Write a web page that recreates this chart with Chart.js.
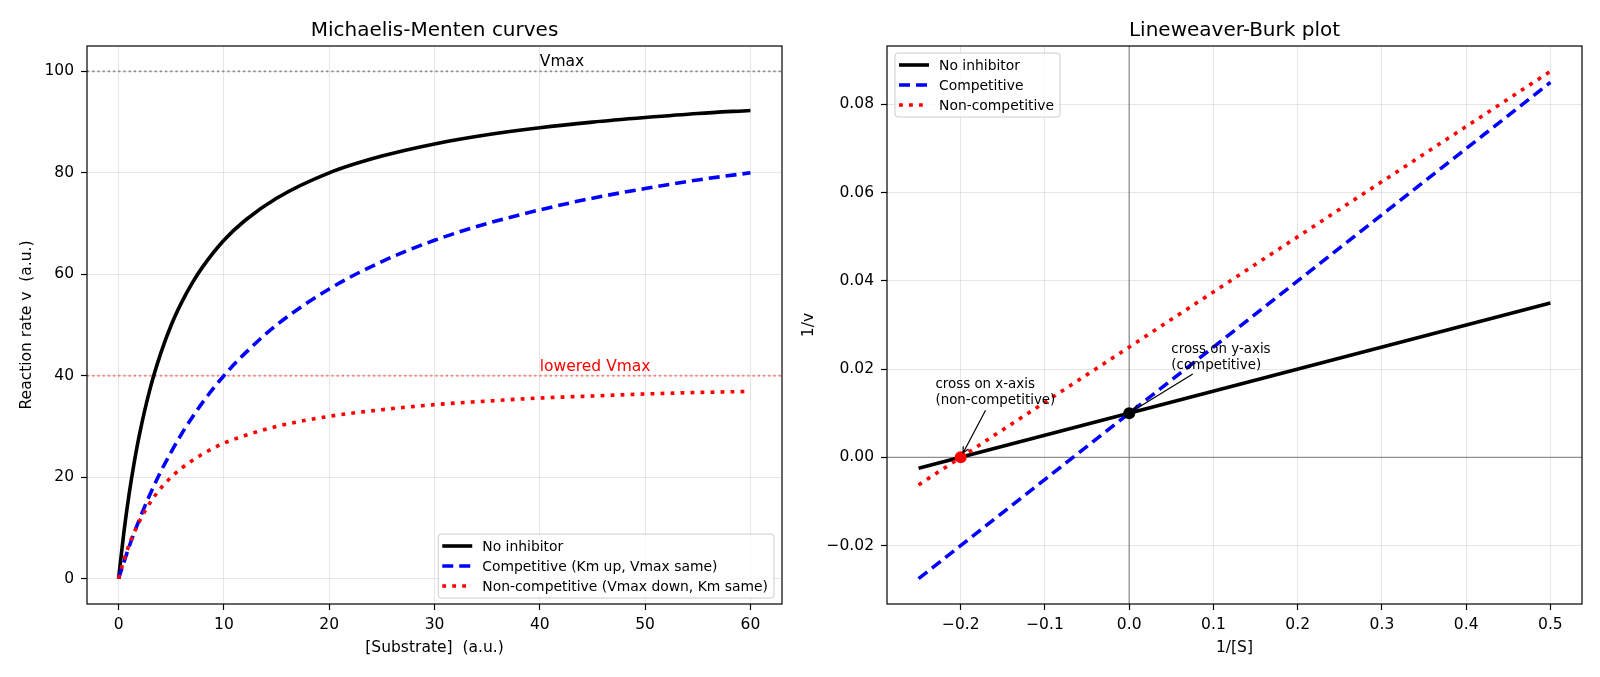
<!DOCTYPE html>
<html>
<head>
<meta charset="utf-8">
<script src="https://cdn.jsdelivr.net/npm/chart.js@4.4.0/dist/chart.umd.min.js"></script>
<style>
  body { margin: 0; background: #fff; }
  #wrap { position: relative; width: 1600px; height: 677px; }
  canvas { position: absolute; top: 0; }
</style>
</head>
<body>
<div id="wrap">
  <canvas id="mmChart" width="800" height="677" style="left:0"></canvas>
  <canvas id="lbChart" width="800" height="677" style="left:800px"></canvas>
</div>
<script>
// --- Michaelis-Menten panel ---
const substrate   = [0, 0.5, 1, 1.5, 2, 3, 4, 5, 6, 7, 8, 10, 12, 15, 20, 25, 30, 35, 40, 45, 50, 55, 60];
const rateNone    = [0, 9.1, 16.7, 23.1, 28.6, 37.5, 44.4, 50.0, 54.5, 58.3, 61.5, 66.7, 70.6, 75.0, 80.0, 83.3, 85.7, 87.5, 88.9, 90.0, 90.9, 91.7, 92.3];
const rateComp    = [0, 3.2, 6.3, 9.1, 11.8, 16.7, 21.1, 25.0, 28.6, 31.8, 34.8, 40.0, 44.4, 50.0, 57.1, 62.5, 66.7, 70.0, 72.7, 75.0, 76.9, 78.6, 80.0];
const rateNonComp = [0, 3.6, 6.7, 9.2, 11.4, 15.0, 17.8, 20.0, 21.8, 23.3, 24.6, 26.7, 28.2, 30.0, 32.0, 33.3, 34.3, 35.0, 35.6, 36.0, 36.4, 36.7, 36.9];
const mmXTicks = [0, 10, 20, 30, 40, 50, 60];
const mmXTickLabels = ['0', '10', '20', '30', '40', '50', '60'];
const mmYTicks = [0, 20, 40, 60, 80, 100];
const mmYTickLabels = ['0', '20', '40', '60', '80', '100'];

// --- Lineweaver-Burk panel ---
const invS        = [-0.25, 0.5];
const invVNone    = [-0.0025, 0.035];
const invVComp    = [-0.0275, 0.085];
const invVNonComp = [-0.00625, 0.0875];
const crossX = [-0.2, 0];
const crossY = [0, 0.01];
const lbXTicks = [-0.2, -0.1, 0, 0.1, 0.2, 0.3, 0.4, 0.5];
const lbXTickLabels = ['\u22120.2', '\u22120.1', '0.0', '0.1', '0.2', '0.3', '0.4', '0.5'];
const lbYTicks = [-0.02, 0, 0.02, 0.04, 0.06, 0.08];
const lbYTickLabels = ['\u22120.02', '0.00', '0.02', '0.04', '0.06', '0.08'];

const FONT = '"DejaVu Sans", sans-serif';

function toPoints(xs, ys) {
    return xs.map((x, i) => ({ x: x, y: ys[i] }));
}

// matplotlib-like extras: ref lines, frame, text, arrows, legend inside the axes
const mplExtras = {
    id: 'mplExtras',
    beforeDatasetsDraw(chart, args, opts) {
        const { ctx, chartArea: a, scales: { x, y } } = chart;
        ctx.save();
        ctx.beginPath();
        ctx.rect(a.left, a.top, a.right - a.left, a.bottom - a.top);
        ctx.clip();
        (opts.hLines || []).forEach(l => {
            const py = y.getPixelForValue(l.value);
            ctx.strokeStyle = l.color;
            ctx.lineWidth = l.width;
            ctx.setLineDash(l.dash || []);
            ctx.beginPath();
            ctx.moveTo(a.left, py);
            ctx.lineTo(a.right, py);
            ctx.stroke();
        });
        (opts.vLines || []).forEach(l => {
            const px = x.getPixelForValue(l.value);
            ctx.strokeStyle = l.color;
            ctx.lineWidth = l.width;
            ctx.setLineDash(l.dash || []);
            ctx.beginPath();
            ctx.moveTo(px, a.top);
            ctx.lineTo(px, a.bottom);
            ctx.stroke();
        });
        ctx.restore();
    },
    afterDatasetsDraw(chart, args, opts) {
        const { ctx, chartArea: a, scales: { x, y } } = chart;
        ctx.save();
        // frame
        ctx.strokeStyle = '#000';
        ctx.lineWidth = 1.2;
        ctx.setLineDash([]);
        ctx.strokeRect(a.left, a.top, a.right - a.left, a.bottom - a.top);

        // plain labels
        (opts.texts || []).forEach(t => {
            ctx.font = '15.5px ' + FONT;
            ctx.fillStyle = t.color;
            ctx.textAlign = 'left';
            ctx.textBaseline = 'alphabetic';
            ctx.fillText(t.text, x.getPixelForValue(t.x), y.getPixelForValue(t.y));
        });

        // annotations with arrows
        (opts.notes || []).forEach(n => {
            const fs = 13.4, lh = fs * 1.2;
            ctx.font = fs + 'px ' + FONT;
            ctx.fillStyle = '#000';
            ctx.textAlign = 'left';
            ctx.textBaseline = 'alphabetic';
            const tx = x.getPixelForValue(n.x), ty = y.getPixelForValue(n.y);
            const lines = n.lines;
            lines.forEach((s, i) => ctx.fillText(s, tx, ty - (lines.length - 1 - i) * lh));
            const w = Math.max(...lines.map(s => ctx.measureText(s).width));
            const top = ty - (lines.length - 1) * lh - fs * 0.93;
            const bottom = ty + fs * 0.24;
            const cx = tx + w / 2, cy = (top + bottom) / 2;
            const ex = x.getPixelForValue(n.px), ey = y.getPixelForValue(n.py);
            const dx = ex - cx, dy = ey - cy;
            const len = Math.hypot(dx, dy);
            const ux = dx / len, uy = dy / len;
            const tX = dx !== 0 ? Math.abs((dx > 0 ? tx + w - cx : tx - cx) / dx) : Infinity;
            const tY = dy !== 0 ? Math.abs((dy > 0 ? bottom - cy : top - cy) / dy) : Infinity;
            const t = Math.min(tX, tY);
            const sx = cx + dx * t + ux * 3, sy = cy + dy * t + uy * 3;
            const fx = ex - ux * 5, fy = ey - uy * 5;
            ctx.strokeStyle = '#000';
            ctx.lineWidth = 1.2;
            ctx.beginPath();
            ctx.moveTo(sx, sy);
            ctx.lineTo(fx, fy);
            const hl = 6, hw = 3;
            ctx.moveTo(fx - ux * hl - uy * hw, fy - uy * hl + ux * hw);
            ctx.lineTo(fx, fy);
            ctx.lineTo(fx - ux * hl + uy * hw, fy - uy * hl - ux * hw);
            ctx.stroke();
        });

        // legend
        if (opts.legendCorner) {
            const items = chart.data.datasets.filter(d => d.label);
            const fs = 13.9, rowH = 20, padL = 4, handle = 30, gap = 10, padR = 6, padV = 2;
            ctx.font = fs + 'px ' + FONT;
            const textW = Math.max(...items.map(d => ctx.measureText(d.label).width));
            const w = padL + handle + gap + textW + padR;
            const h = padV * 2 + rowH * items.length;
            const lower = opts.legendCorner === 'lower right';
            const left = lower ? a.right - 8 - w : a.left + 8;
            const top = lower ? a.bottom - 6 - h : a.top + 7;
            ctx.beginPath();
            if (ctx.roundRect) ctx.roundRect(left, top, w, h, 3);
            else ctx.rect(left, top, w, h);
            ctx.fillStyle = 'rgba(255,255,255,0.8)';
            ctx.fill();
            ctx.strokeStyle = '#cccccc';
            ctx.lineWidth = 1;
            ctx.stroke();
            items.forEach((d, i) => {
                const cy = top + padV + rowH * (i + 0.5);
                ctx.strokeStyle = d.borderColor;
                ctx.lineWidth = d.borderWidth;
                ctx.setLineDash(d.borderDash || []);
                ctx.beginPath();
                ctx.moveTo(left + padL, cy);
                ctx.lineTo(left + padL + handle, cy);
                ctx.stroke();
                ctx.setLineDash([]);
                ctx.fillStyle = '#000';
                ctx.textAlign = 'left';
                ctx.textBaseline = 'middle';
                ctx.fillText(d.label, left + padL + handle + gap, cy + 1);
            });
        }
        ctx.restore();
    }
};

function makeAxis(isX, min, max, ticks, labels, title, titlePad) {
    return {
        type: 'linear',
        min: min,
        max: max,
        afterBuildTicks: s => { s.ticks = ticks.map(v => ({ value: v })); },
        afterFit: s => { if (isX) s.height = 73; else s.width = 87; },
        ticks: {
            font: { family: FONT, size: 15.5 },
            color: '#000',
            padding: isX ? 6 : 7,
            maxRotation: 0,
            autoSkip: false,
            callback: (v, i) => labels[i]
        },
        grid: {
            color: 'rgba(176,176,176,0.32)',
            lineWidth: 1,
            tickColor: '#000',
            tickLength: 6,
            tickWidth: 1.2
        },
        border: { display: false },
        title: {
            display: true,
            text: title,
            color: '#000',
            font: { family: FONT, size: 15.5 },
            padding: { top: titlePad, bottom: titlePad }
        }
    };
}

function lineSet(label, data, color, dash, order) {
    return {
        label: label,
        data: data,
        borderColor: color,
        backgroundColor: color,
        borderWidth: 3.6,
        borderDash: dash,
        pointRadius: 0,
        pointHoverRadius: 0,
        fill: false,
        cubicInterpolationMode: 'monotone',
        order: order
    };
}

function baseOptions(title, xAxis, yAxis, extras) {
    return {
        responsive: false,
        devicePixelRatio: 1,
        animation: false,
        events: [],
        layout: { padding: { left: 0, right: 18, top: 0, bottom: 0 } },
        scales: { x: xAxis, y: yAxis },
        plugins: {
            legend: { display: false },
            tooltip: { enabled: false },
            title: {
                display: true,
                text: title,
                color: '#000',
                fullSize: false,
                font: { family: FONT, size: 20, weight: 'normal' },
                padding: { top: 19, bottom: 3 }
            },
            mplExtras: extras
        }
    };
}

const DASH = [11, 6];
const DOT = [3.8, 6.2];

new Chart(document.getElementById('mmChart'), {
    type: 'line',
    data: {
        datasets: [
            lineSet('No inhibitor', toPoints(substrate, rateNone), '#000000', [], 3),
            lineSet('Competitive (Km up, Vmax same)', toPoints(substrate, rateComp), '#0000ff', DASH, 2),
            lineSet('Non-competitive (Vmax down, Km same)', toPoints(substrate, rateNonComp), '#ff0000', DOT, 1)
        ]
    },
    options: baseOptions('Michaelis-Menten curves',
        makeAxis(true, -3, 63, mmXTicks, mmXTickLabels, '[Substrate]  (a.u.)', 19.7),
        makeAxis(false, -5, 105, mmYTicks, mmYTickLabels, 'Reaction rate v  (a.u.)', 17.2),
        {
            hLines: [
                { value: 100, color: 'rgba(128,128,128,0.9)', width: 1.8, dash: [2.2, 3] },
                { value: 40, color: 'rgba(255,0,0,0.45)', width: 1.8, dash: [2.2, 3] }
            ],
            texts: [
                { text: 'Vmax', x: 40, y: 101, color: '#000' },
                { text: 'lowered Vmax', x: 40, y: 41, color: '#ff0000' }
            ],
            legendCorner: 'lower right'
        }),
    plugins: [mplExtras]
});

new Chart(document.getElementById('lbChart'), {
    type: 'line',
    data: {
        datasets: [
            lineSet('No inhibitor', toPoints(invS, invVNone), '#000000', [], 4),
            lineSet('Competitive', toPoints(invS, invVComp), '#0000ff', DASH, 3),
            lineSet('Non-competitive', toPoints(invS, invVNonComp), '#ff0000', DOT, 2),
            {
                label: '',
                data: [{ x: crossX[0], y: crossY[0] }],
                showLine: false,
                pointRadius: 6,
                pointBorderWidth: 0,
                pointBackgroundColor: '#ff0000',
                order: 1
            },
            {
                label: '',
                data: [{ x: crossX[1], y: crossY[1] }],
                showLine: false,
                pointRadius: 6,
                pointBorderWidth: 0,
                pointBackgroundColor: '#000000',
                order: 0
            }
        ]
    },
    options: baseOptions('Lineweaver-Burk plot',
        makeAxis(true, -0.2875, 0.5375, lbXTicks, lbXTickLabels, '1/[S]', 19.7),
        makeAxis(false, -0.03325, 0.09325, lbYTicks, lbYTickLabels, '1/v', 0),
        {
            hLines: [{ value: 0, color: 'rgba(128,128,128,0.85)', width: 1.3 }],
            vLines: [{ value: 0, color: 'rgba(128,128,128,0.85)', width: 1.3 }],
            notes: [
                { lines: ['cross on x-axis', '(non-competitive)'], x: -0.23, y: 0.012, px: crossX[0], py: crossY[0] },
                { lines: ['cross on y-axis', '(competitive)'], x: 0.05, y: 0.02, px: crossX[1], py: crossY[1] }
            ],
            legendCorner: 'upper left'
        }),
    plugins: [mplExtras]
});
</script>
</body>
</html>
